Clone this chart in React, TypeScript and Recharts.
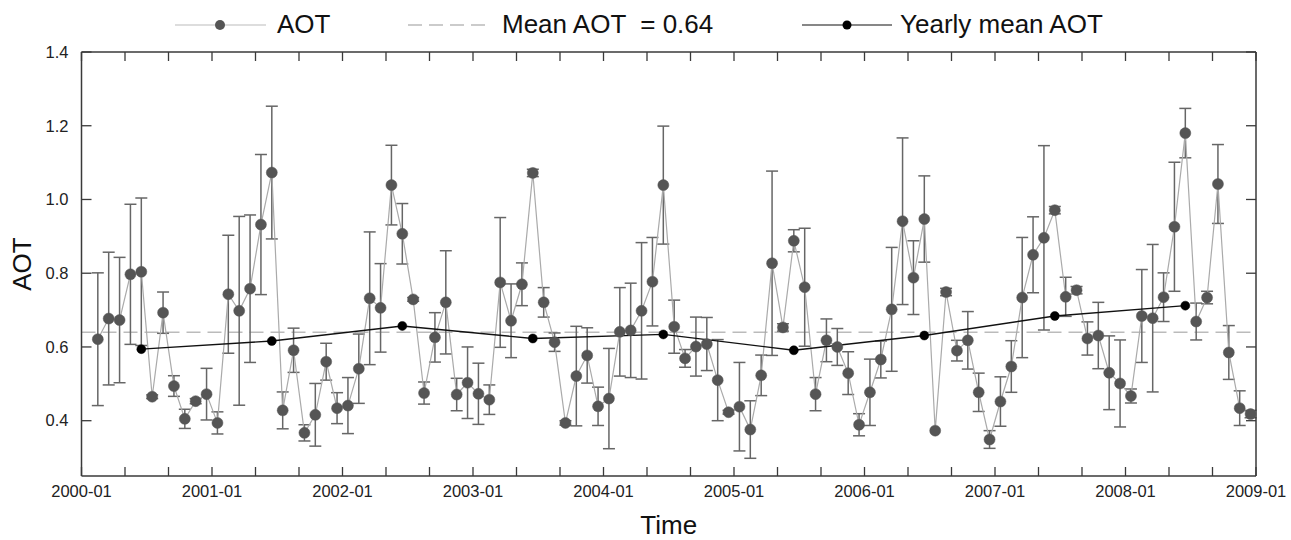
import { LineChart, Line, XAxis, YAxis, ReferenceLine, ErrorBar, Label } from 'recharts';

// monthly AOT, Feb 2000 .. Dec 2008
const aotValues = [
  0.621, 0.677, 0.673, 0.797, 0.804, 0.465, 0.693, 0.494, 0.405, 0.453, 0.472,
  0.394, 0.743, 0.698, 0.758, 0.932, 1.073, 0.428, 0.591, 0.367, 0.416, 0.56, 0.434,
  0.441, 0.541, 0.732, 0.706, 1.039, 0.907, 0.729, 0.475, 0.626, 0.721, 0.471, 0.503,
  0.473, 0.457, 0.775, 0.671, 0.77, 1.072, 0.721, 0.613, 0.394, 0.521, 0.577, 0.439,
  0.46, 0.641, 0.645, 0.698, 0.777, 1.039, 0.655, 0.569, 0.601, 0.608, 0.51, 0.423,
  0.438, 0.376, 0.523, 0.827, 0.653, 0.888, 0.762, 0.472, 0.618, 0.6, 0.529, 0.389,
  0.477, 0.566, 0.702, 0.941, 0.788, 0.947, 0.373, 0.749, 0.59, 0.618, 0.477, 0.349,
  0.452, 0.547, 0.734, 0.85, 0.896, 0.971, 0.736, 0.754, 0.623, 0.631, 0.53, 0.501,
  0.467, 0.684, 0.678, 0.735, 0.926, 1.18, 0.669, 0.734, 1.042, 0.585, 0.434, 0.418,
];

const aotErrors = [
  0.18, 0.18, 0.17, 0.19, 0.2, 0.005, 0.056, 0.028, 0.026, 0.007, 0.07,
  0.03, 0.16, 0.256, 0.2, 0.19, 0.18, 0.05, 0.06, 0.022, 0.085, 0.05, 0.042,
  0.076, 0.094, 0.18, 0.12, 0.108, 0.082, 0.005, 0.03, 0.067, 0.14, 0.044, 0.097,
  0.083, 0.04, 0.176, 0.1, 0.058, 0.01, 0.04, 0.025, 0.006, 0.135, 0.075, 0.052,
  0.136, 0.12, 0.128, 0.185, 0.12, 0.16, 0.072, 0.024, 0.08, 0.072, 0.11, 0.005,
  0.12, 0.078, 0.055, 0.25, 0.01, 0.03, 0.16, 0.045, 0.058, 0.05, 0.058, 0.03,
  0.09, 0.05, 0.168, 0.226, 0.1, 0.117, 0, 0.01, 0.028, 0.078, 0.052, 0.024,
  0.067, 0.07, 0.163, 0.103, 0.25, 0.01, 0.053, 0.01, 0.045, 0.09, 0.1, 0.118,
  0.019, 0.126, 0.2, 0.066, 0.175, 0.067, 0.05, 0.017, 0.107, 0.073, 0.047, 0.01,
];

// yearly means 2000..2008, plotted at June of each year
const yearlyMeans = [0.594, 0.616, 0.657, 0.623, 0.634, 0.591, 0.631, 0.684, 0.712];
const meanAot = 0.64;

const xTickLabels = ['2000-01', '2001-01', '2002-01', '2003-01', '2004-01', '2005-01', '2006-01', '2007-01', '2008-01', '2009-01'];
const yTicks = [0.4, 0.6, 0.8, 1.0, 1.2, 1.4];

const firstMonth = 1; // Feb 2000
const data = aotValues.map((v, i) => {
  const m = firstMonth + i;
  return {
    t: m + 0.5,
    aot: v,
    err: aotErrors[i],
    yearly: m % 12 === 5 ? yearlyMeans[Math.floor(m / 12)] : null,
  };
});

const xTicks = Array.from({ length: 28 }, (_, i) => i * 4);

const AXIS = '#3a3a3a';
const FONT = 'Arial, "Liberation Sans", sans-serif';

const BottomTick = (props: any) => {
  const { x, y, payload } = props;
  const v = payload.value;
  return (
    <g>
      <line x1={x} x2={x} y1={y} y2={y - 9} stroke={AXIS} strokeWidth={1.3} />
      {v % 12 === 0 && (
        <text x={x} y={y + 21} textAnchor="middle" fontSize={16.5} fill="#222" fontFamily={FONT}>
          {xTickLabels[v / 12]}
        </text>
      )}
    </g>
  );
};

const TopTick = (props: any) => {
  const { x, y } = props;
  return <line x1={x} x2={x} y1={y} y2={y + 9} stroke={AXIS} strokeWidth={1.3} />;
};

const LeftTick = (props: any) => {
  const { x, y, payload } = props;
  return (
    <g>
      <line x1={x} x2={x + 10} y1={y} y2={y} stroke={AXIS} strokeWidth={1.3} />
      <text x={x - 13} y={y} dy="0.35em" textAnchor="end" fontSize={16.5} fill="#222" fontFamily={FONT}>
        {payload.value.toFixed(1)}
      </text>
    </g>
  );
};

const RightTick = (props: any) => {
  const { x, y } = props;
  return <line x1={x} x2={x - 10} y1={y} y2={y} stroke={AXIS} strokeWidth={1.3} />;
};

const LegendBar = () => (
  <svg width={1291} height={50} style={{ position: 'absolute', left: 0, top: 0 }}>
    <g fontFamily={FONT} fontSize={26} fill="#111">
      <line x1={175} x2={266} y1={25} y2={25} stroke="#bbb" strokeWidth={1.2} />
      <circle cx={220} cy={25} r={5} fill="#555" />
      <text x={277} y={33}>AOT</text>
      <line x1={408} x2={491} y1={25} y2={25} stroke="#bbb" strokeWidth={1.5} strokeDasharray="14 7" />
      <text x={502} y={33} xmlSpace="preserve">Mean AOT  = 0.64</text>
      <line x1={802} x2={892} y1={25} y2={25} stroke="#111" strokeWidth={1.2} />
      <circle cx={847} cy={25} r={4.5} fill="#000" />
      <text x={900} y={33}>Yearly mean AOT</text>
    </g>
  </svg>
);

export default function App() {
  return (
    <div style={{ position: 'absolute', left: 0, top: 0, width: 1291, height: 540, background: '#fff' }}>
      <LineChart width={1291} height={540} data={data} margin={{ top: 51, right: 34, bottom: 0, left: 0 }}>
        <XAxis
          dataKey="t"
          type="number"
          domain={[0, 108]}
          ticks={xTicks}
          interval={0}
          height={64}
          tickSize={0}
          tickMargin={0}
          tickLine={false}
          axisLine={{ stroke: AXIS, strokeWidth: 1.5 }}
          tick={BottomTick}
        >
          <Label value="Time" position="insideBottom" offset={6} style={{ fontSize: 26, fontFamily: FONT, fill: '#111' }} />
        </XAxis>
        <XAxis
          xAxisId="top"
          orientation="top"
          dataKey="t"
          type="number"
          domain={[0, 108]}
          ticks={xTicks}
          interval={0}
          height={1}
          tickSize={0}
          tickMargin={0}
          tickLine={false}
          axisLine={{ stroke: AXIS, strokeWidth: 1.5 }}
          tick={TopTick}
        />
        <YAxis
          type="number"
          domain={[0.25, 1.4]}
          ticks={yTicks}
          interval={0}
          width={81.5}
          tickSize={0}
          tickMargin={0}
          tickLine={false}
          axisLine={{ stroke: AXIS, strokeWidth: 1.5 }}
          tick={LeftTick}
        >
          <Label
            value="AOT"
            angle={-90}
            position="insideLeft"
            offset={22}
            style={{ fontSize: 26, fontFamily: FONT, fill: '#111', textAnchor: 'middle' }}
          />
        </YAxis>
        <YAxis
          yAxisId="right"
          orientation="right"
          type="number"
          domain={[0.25, 1.4]}
          ticks={yTicks}
          interval={0}
          width={1}
          tickSize={0}
          tickMargin={0}
          tickLine={false}
          axisLine={{ stroke: AXIS, strokeWidth: 1.5 }}
          tick={RightTick}
        />
        <ReferenceLine y={meanAot} stroke="#bbb" strokeWidth={1.5} strokeDasharray="14 7" />
        <Line
          dataKey="aot"
          stroke="#aaa"
          strokeWidth={1.2}
          dot={{ r: 5.5, fill: '#555', stroke: '#555', strokeWidth: 0.5 }}
          activeDot={false}
          isAnimationActive={false}
        >
          <ErrorBar dataKey="err" direction="y" width={6} stroke="#666" strokeWidth={1.5} isAnimationActive={false} />
        </Line>
        <Line
          xAxisId="top"
          yAxisId="right"
          dataKey="yearly"
          connectNulls
          stroke="#111"
          strokeWidth={1.4}
          dot={{ r: 4.5, fill: '#000', stroke: '#000', strokeWidth: 0.5 }}
          activeDot={false}
          isAnimationActive={false}
        />
      </LineChart>
      <LegendBar />
    </div>
  );
}
